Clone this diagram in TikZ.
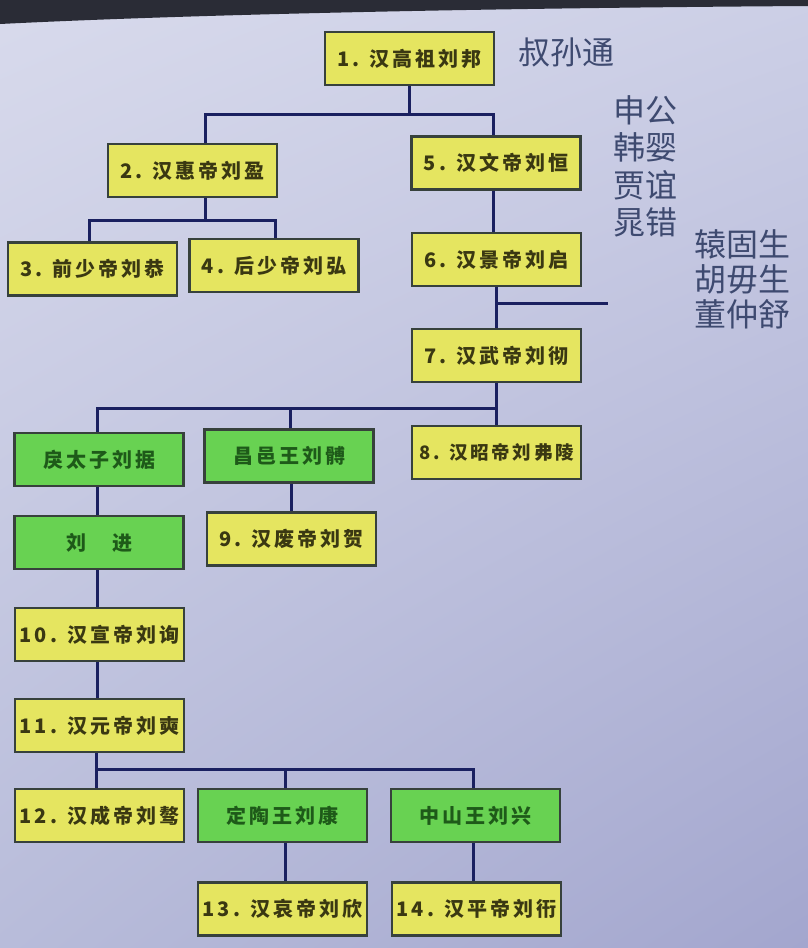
\documentclass[tikz,border=0pt]{standalone}
\usepackage{fontspec}
\usetikzlibrary{shadings}
\newfontfamily\boxfont[LetterSpace=15]{Noto Sans CJK SC}
\newfontfamily\sidefont{Noto Sans CJK SC}
\definecolor{yel}{RGB}{229,229,96}
\definecolor{grn}{RGB}{104,210,82}
\definecolor{bord}{RGB}{55,65,60}
\definecolor{lnk}{RGB}{26,32,96}
\definecolor{ytxt}{RGB}{58,56,18}
\definecolor{gtxt}{RGB}{30,90,25}
\definecolor{stxt}{RGB}{62,74,112}
\definecolor{bgA}{RGB}{216,218,236}
\definecolor{bgB}{RGB}{204,207,230}
\definecolor{bgC}{RGB}{184,188,218}
\definecolor{bgD}{RGB}{163,166,206}
\definecolor{bez}{RGB}{42,44,54}

\begin{document}
\begin{tikzpicture}[x=1pt, y=-1pt]
   \tikzstyle{nodY} = [draw=bord, line width=2.4pt, fill=yel, text=ytxt,
                       minimum width=169pt, minimum height=53pt, inner sep=0pt,
                       font=\boxfont\bfseries\fontsize{20}{20}\selectfont];
   \tikzstyle{nodG} = [nodY, fill=grn, text=gtxt];
   \tikzstyle{gd} = [lnk, line width=3pt, -];
   \tikzstyle{side} = [text=stxt, align=center, inner sep=0pt];

    \useasboundingbox (0,0) rectangle (808,948);
    \shade[upper left=bgA, upper right=bgB, lower left=bgC, lower right=bgD]
        (0,0) rectangle (808,948);
    \fill[bez] (0,0) -- (808,0) -- (808,6)
        .. controls (500,8) and (200,14) .. (0,24) -- cycle;

    \node[nodY] (1) at  (409.5,58.5){1. 汉高祖刘邦};
    \node[nodY] (2) at  (192.5,170.5){2. 汉惠帝刘盈};
    \node[nodY] (3) at  (92.5,269){3. 前少帝刘恭};
    \node[nodY] (4) at  (274,265.5){4. 后少帝刘弘};
    \node[nodY] (5) at  (496,163){5. 汉文帝刘恒};
    \node[nodY] (6) at  (496.5,259.5){6. 汉景帝刘启};
    \node[nodY] (7) at  (496.5,355.5){7. 汉武帝刘彻};
    \node[nodY, font=\boxfont\bfseries\fontsize{18.5}{18.5}\selectfont]
        (8) at  (496.5,452.5){8. 汉昭帝刘弗陵};

    \node[nodG] (g1) at  (99,459.5){戾太子刘据};
    \node[nodG] (g2) at  (289,456){昌邑王刘髆};
    \node[nodY] (9) at  (291.5,539){9. 汉废帝刘贺};
    \node[nodG] (g3) at  (99,542.5){刘\hspace{1.3em}进};

    \node[nodY] (10) at  (99.5,634.5){10. 汉宣帝刘询};
    \node[nodY] (11) at  (99.5,725.5){11. 汉元帝刘奭};
    \node[nodY] (12) at  (99.5,815.5){12. 汉成帝刘骜};
    \node[nodG] (g4) at  (282.5,815.5){定陶王刘康};
    \node[nodG] (g5) at  (475.5,815.5){中山王刘兴};
    \node[nodY] (13) at  (282.5,909){13. 汉哀帝刘欣};
    \node[nodY] (14) at  (476.5,909){14. 汉平帝刘衎};

    %% scholars beside the line
    \node[side, font=\sidefont\fontsize{32}{32}\selectfont]
        (s1) at (566,52){叔孙通};
    \node[side, font=\sidefont\fontsize{32}{37.5}\selectfont]
        (s2) at (645,166.5){申公\\韩婴\\贾谊\\晁错};
    \node[side, font=\sidefont\fontsize{32}{35}\selectfont]
        (s3) at (742,279){辕固生\\胡毋生\\董仲舒};

    \draw[gd] (1.south) -- ++(0,28) coordinate (j1);
    \draw[gd] ([xshift=12.5]2.north) |- (j1) -| ([xshift=-3]5.north);

    \draw[gd] ([xshift=12.5]2.south) -- ++(0,22) coordinate (j2);
    \draw[gd] ([xshift=-3.5]3.north) |- (j2) -| ([xshift=1]4.north);

    \draw[gd] ([xshift=-3]5.south) -- ([xshift=-3.5]6.north);

    \draw[gd] (6.south) -- ++(0,16) coordinate (j3) -- (7.north);
    \draw[gd] (j3) -- ++(111,0) coordinate (t3);

    \draw[gd] (7.south) -- ++(0,25) coordinate (j4) -- (8.north);
    \draw[gd] (j4) -| ([xshift=-2]g1.north);
    \draw[gd] (j4) -| ([xshift=1]g2.north);

    \draw[gd] ([xshift=-2]g1.south) -- ([xshift=-2]g3.north);
    \draw[gd] ([xshift=2]g2.south) -- ([xshift=-0.5]9.north);
    \draw[gd] ([xshift=-2]g3.south) -- ([xshift=-2.5]10.north);
    \draw[gd] ([xshift=-2.5]10.south) -- ([xshift=-2.5]11.north);

    \draw[gd] ([xshift=-3]11.south) -- ++(0,16) coordinate (j5)
        -- ([xshift=-3]12.north);
    \draw[gd] (j5) -| ([xshift=2.5]g4.north);
    \draw[gd] (j5) -| ([xshift=-2.5]g5.north);

    \draw[gd] ([xshift=2.5]g4.south) -- ([xshift=2.5]13.north);
    \draw[gd] ([xshift=-2.5]g5.south) -- ([xshift=-3.5]14.north);

  \end{tikzpicture}
\end{document}
